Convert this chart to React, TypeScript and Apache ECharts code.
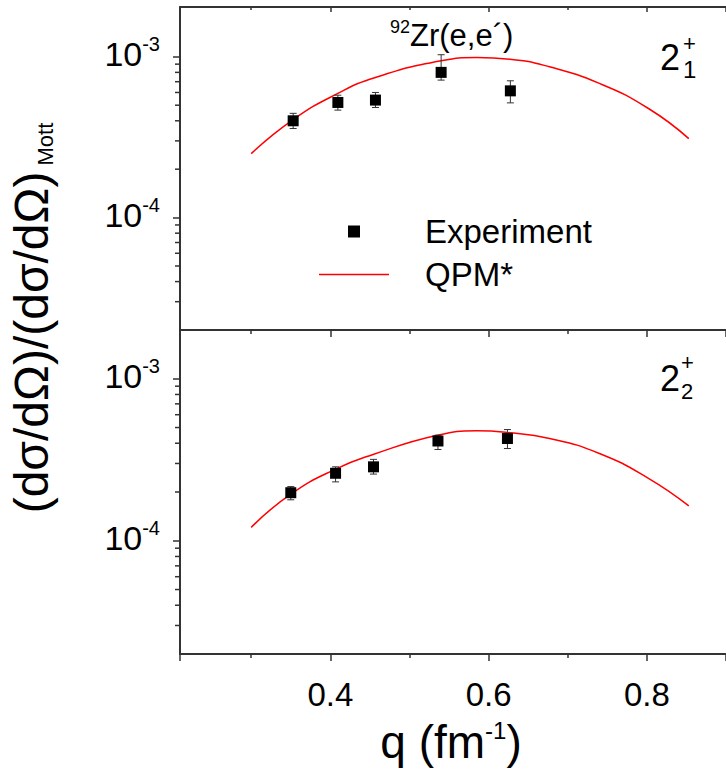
import React, { useEffect, useRef } from 'react';
import * as echarts from 'echarts';

const FONT = '"Liberation Sans", Arial, Helvetica, sans-serif';

const X_MIN = 0.21;
const X_MAX = 0.9;
const Y_MIN = 2e-5;
const Y_MAX_TOP = 2.04e-3;
const Y_MAX_BOT = 2e-3;

// Top panel (2_1^+)
const qExpTop = [0.353, 0.4095, 0.457, 0.54, 0.6275];
const expTop = [4.0e-4, 5.2e-4, 5.38e-4, 8.0e-4, 6.14e-4];
const expTopLow = [3.58e-4, 4.66e-4, 4.84e-4, 7.16e-4, 5.17e-4];
const expTopHigh = [4.45e-4, 5.77e-4, 6.0e-4, 1.03e-3, 7.09e-4];
const qTheoryTop = [0.3, 0.353, 0.4095, 0.457, 0.54, 0.585, 0.627, 0.677, 0.74, 0.802, 0.853];
const theoryTop = [2.5e-4, 4.07e-4, 5.92e-4, 7.44e-4, 9.44e-4, 9.9e-4, 9.67e-4, 8.66e-4, 6.83e-4, 4.77e-4, 3.1e-4];

// Bottom panel (2_2^+)
const qExpBot = [0.35, 0.4066, 0.4545, 0.536, 0.6238];
const expBot = [1.98e-4, 2.61e-4, 2.86e-4, 4.13e-4, 4.28e-4];
const expBotLow = [1.79e-4, 2.31e-4, 2.58e-4, 3.66e-4, 3.71e-4];
const expBotHigh = [2.16e-4, 2.86e-4, 3.18e-4, 4.48e-4, 4.86e-4];
const qTheoryBot = [0.3, 0.35, 0.406, 0.454, 0.535, 0.585, 0.623, 0.677, 0.74, 0.802, 0.853];
const theoryBot = [1.21e-4, 1.94e-4, 2.76e-4, 3.41e-4, 4.48e-4, 4.77e-4, 4.66e-4, 4.28e-4, 3.46e-4, 2.43e-4, 1.64e-4];

const yMinorTicks = [3e-5, 4e-5, 5e-5, 6e-5, 7e-5, 8e-5, 9e-5, 2e-4, 3e-4, 4e-4, 5e-4, 6e-4, 7e-4, 8e-4, 9e-4];

const AXIS_COLOR = '#333';

function zip2(a: number[], b: number[]) {
  return a.map((v, i) => [v, b[i]]);
}
function zip3(a: number[], b: number[], c: number[]) {
  return a.map((v, i) => [v, b[i], c[i]]);
}

function errorRender(params: any, api: any) {
  const x = api.value(0);
  const lo = api.coord([x, api.value(1)]);
  const hi = api.coord([x, api.value(2)]);
  const w = 3.5;
  const st = { stroke: '#333', lineWidth: 1 };
  return {
    type: 'group',
    children: [
      { type: 'line', shape: { x1: lo[0], y1: lo[1], x2: hi[0], y2: hi[1] }, style: st },
      { type: 'line', shape: { x1: lo[0] - w, y1: lo[1], x2: lo[0] + w, y2: lo[1] }, style: st },
      { type: 'line', shape: { x1: hi[0] - w, y1: hi[1], x2: hi[0] + w, y2: hi[1] }, style: st },
    ],
  };
}

function minorTickRender(params: any, api: any) {
  const p = api.coord([api.value(0), api.value(1)]);
  return {
    type: 'line',
    shape: { x1: p[0] - 5, y1: p[1], x2: p[0], y2: p[1] },
    style: { stroke: AXIS_COLOR, lineWidth: 1.5 },
  };
}

function xAxisBase(gridIndex: number) {
  return {
    type: 'value',
    gridIndex,
    min: X_MIN,
    max: X_MAX,
    splitNumber: 3,
    axisLine: { show: true, onZero: false, lineStyle: { color: AXIS_COLOR, width: 2 } },
    splitLine: { show: false },
    axisLabel: { show: false, showMinLabel: false, showMaxLabel: false },
  };
}

function yAxisBase(gridIndex: number, max: number) {
  return {
    type: 'log',
    logBase: 10,
    gridIndex,
    min: Y_MIN,
    max,
    axisLine: { show: true, lineStyle: { color: AXIS_COLOR, width: 2 } },
    axisTick: { show: true, inside: false, length: 7, lineStyle: { color: AXIS_COLOR, width: 1.5 } },
    splitLine: { show: false },
    axisLabel: {
      show: true,
      showMinLabel: false,
      showMaxLabel: false,
      margin: 20,
      padding: [0, 0, 6, 0],
      formatter: (v: number) => '{b|10}{s|' + Math.round(Math.log10(v)) + '}',
      rich: {
        b: { fontSize: 34, fontFamily: FONT, color: '#000', lineHeight: 40 },
        s: { fontSize: 20, fontFamily: FONT, color: '#000', verticalAlign: 'top', lineHeight: 20 },
      },
    },
  };
}

export default function App() {
  const ref = useRef<HTMLDivElement>(null);
  useEffect(() => {
    const chart = echarts.init(ref.current!, null, { renderer: 'svg' });
    const option: any = {
      animation: false,
      backgroundColor: '#fff',
      grid: [
        { left: 180, top: 7, right: -5, height: 323 },
        { left: 180, top: 330, right: -5, height: 324 },
      ],
      xAxis: [
        { ...xAxisBase(0), position: 'bottom', axisTick: { show: false } },
        {
          ...xAxisBase(0),
          position: 'top',
          axisTick: { show: true, inside: true, length: 5, lineStyle: { color: AXIS_COLOR, width: 1.5 } },
          minorTick: { show: true, splitNumber: 2, length: 3, lineStyle: { color: AXIS_COLOR, width: 1.5 } },
        },
        {
          ...xAxisBase(1),
          position: 'top',
          axisTick: { show: true, inside: true, length: 7, lineStyle: { color: AXIS_COLOR, width: 1.5 } },
          minorTick: { show: true, splitNumber: 2, length: 4, lineStyle: { color: AXIS_COLOR, width: 1.5 } },
        },
        {
          ...xAxisBase(1),
          position: 'bottom',
          axisTick: { show: true, inside: false, length: 7, lineStyle: { color: AXIS_COLOR, width: 1.5 } },
          minorTick: { show: true, splitNumber: 2, length: 4, lineStyle: { color: AXIS_COLOR, width: 1.5 } },
          axisLabel: {
            show: true,
            showMinLabel: false,
            showMaxLabel: false,
            margin: 24,
            fontSize: 33,
            fontFamily: FONT,
            color: '#000',
          },
        },
      ],
      yAxis: [yAxisBase(0, Y_MAX_TOP), yAxisBase(1, Y_MAX_BOT)],
      legend: {
        left: 314,
        top: 210,
        orient: 'vertical',
        itemWidth: 70,
        itemHeight: 12,
        itemGap: 10,
        selectedMode: false,
        symbolKeepAspect: true,
        data: [
          { name: 'Experiment', icon: 'path://M0,0L10,0L10,10L0,10Z' },
          { name: 'QPM*', icon: 'path://M0,0L70,0L70,1.5L0,1.5Z' },
        ],
        textStyle: { fontSize: 33, fontFamily: FONT, color: '#000', lineHeight: 33, padding: [0, 0, 0, 31] },
      },
      series: [
        {
          type: 'custom',
          xAxisIndex: 0,
          yAxisIndex: 0,
          clip: false,
          silent: true,
          renderItem: minorTickRender,
          data: yMinorTicks.map((v) => [X_MIN, v]),
          z: 1,
        },
        {
          type: 'custom',
          xAxisIndex: 3,
          yAxisIndex: 1,
          clip: false,
          silent: true,
          renderItem: minorTickRender,
          data: yMinorTicks.map((v) => [X_MIN, v]),
          z: 1,
        },
        {
          name: 'QPM*',
          type: 'line',
          xAxisIndex: 0,
          yAxisIndex: 0,
          smooth: true,
          symbol: 'none',
          lineStyle: { color: '#ff0000', width: 1.5 },
          itemStyle: { color: '#ff0000' },
          data: zip2(qTheoryTop, theoryTop),
          z: 2,
        },
        {
          name: 'QPM*',
          type: 'line',
          xAxisIndex: 3,
          yAxisIndex: 1,
          smooth: true,
          symbol: 'none',
          lineStyle: { color: '#ff0000', width: 1.5 },
          itemStyle: { color: '#ff0000' },
          data: zip2(qTheoryBot, theoryBot),
          z: 2,
        },
        {
          type: 'custom',
          xAxisIndex: 0,
          yAxisIndex: 0,
          renderItem: errorRender,
          encode: { x: 0, y: [1, 2] },
          data: zip3(qExpTop, expTopLow, expTopHigh),
          z: 3,
        },
        {
          type: 'custom',
          xAxisIndex: 3,
          yAxisIndex: 1,
          renderItem: errorRender,
          encode: { x: 0, y: [1, 2] },
          data: zip3(qExpBot, expBotLow, expBotHigh),
          z: 3,
        },
        {
          name: 'Experiment',
          type: 'scatter',
          xAxisIndex: 0,
          yAxisIndex: 0,
          symbol: 'rect',
          symbolSize: 11,
          itemStyle: { color: '#000', opacity: 1 },
          data: zip2(qExpTop, expTop),
          z: 4,
        },
        {
          name: 'Experiment',
          type: 'scatter',
          xAxisIndex: 3,
          yAxisIndex: 1,
          symbol: 'rect',
          symbolSize: 11,
          itemStyle: { color: '#000', opacity: 1 },
          data: zip2(qExpBot, expBot),
          z: 4,
        },
      ],
      graphic: [
        {
          type: 'text',
          x: 390,
          y: 35,
          style: {
            text: '{s|92}{m|Zr(e,e´)}',
            align: 'left',
            verticalAlign: 'middle',
            rich: {
              s: { fontSize: 18, fontFamily: FONT, fill: '#000', verticalAlign: 'top', lineHeight: 18 },
              m: { fontSize: 31, fontFamily: FONT, fill: '#000', lineHeight: 34 },
            },
          },
        },
        { type: 'text', x: 660, y: 57, style: { text: '2', fontSize: 36, fontFamily: FONT, fill: '#000', verticalAlign: 'middle' } },
        { type: 'text', x: 683, y: 43, style: { text: '+', fontSize: 22, fontFamily: FONT, fill: '#000', verticalAlign: 'middle' } },
        { type: 'text', x: 683, y: 69, style: { text: '1', fontSize: 24, fontFamily: FONT, fill: '#000', verticalAlign: 'middle' } },
        { type: 'text', x: 660, y: 378, style: { text: '2', fontSize: 36, fontFamily: FONT, fill: '#000', verticalAlign: 'middle' } },
        { type: 'text', x: 681, y: 362, style: { text: '+', fontSize: 22, fontFamily: FONT, fill: '#000', verticalAlign: 'middle' } },
        { type: 'text', x: 681, y: 391, style: { text: '2', fontSize: 22, fontFamily: FONT, fill: '#000', verticalAlign: 'middle' } },
        {
          type: 'text',
          x: 31,
          y: 318,
          rotation: Math.PI / 2,
          style: {
            text: '{m|(dσ/dΩ)/(dσ/dΩ)}{s| Mott}',
            align: 'center',
            verticalAlign: 'middle',
            rich: {
              m: { fontSize: 48, fontFamily: FONT, fill: '#000', lineHeight: 50 },
              s: { fontSize: 22, fontFamily: FONT, fill: '#000', verticalAlign: 'bottom', lineHeight: 24 },
            },
          },
        },
        {
          type: 'text',
          x: 451,
          y: 742,
          style: {
            text: '{m|q (fm}{s|-1}{m|)}',
            align: 'center',
            verticalAlign: 'middle',
            rich: {
              m: { fontSize: 46, fontFamily: FONT, fill: '#000', lineHeight: 48 },
              s: { fontSize: 24, fontFamily: FONT, fill: '#000', verticalAlign: 'top', lineHeight: 24 },
            },
          },
        },
      ],
    };
    chart.setOption(option);
    return () => chart.dispose();
  }, []);
  return (
    <div
      ref={ref}
      style={{ position: 'absolute', left: 0, top: 0, width: 726, height: 776, background: '#fff' }}
    />
  );
}
